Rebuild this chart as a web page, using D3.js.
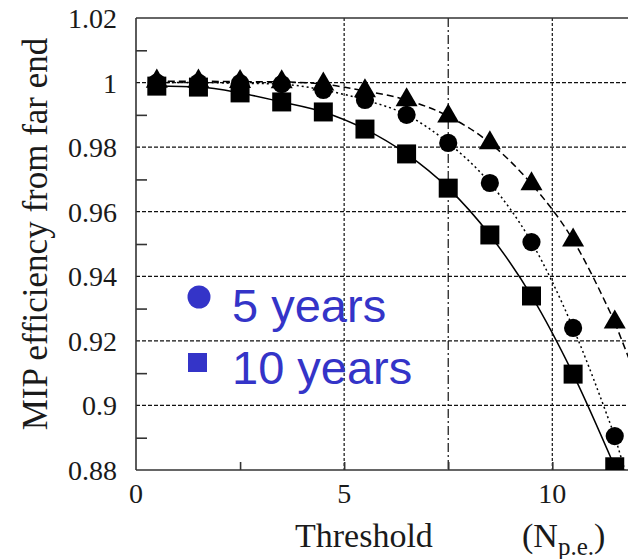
<!DOCTYPE html>
<html>
<head>
<meta charset="utf-8">
<script src="https://cdn.jsdelivr.net/npm/d3@7"></script>
<style>
  body { margin: 0; background: #fff; }
  svg { display: block; }
  .serif { font-family: "Liberation Serif", "Times New Roman", serif; fill: #1a1a1a; }
</style>
</head>
<body>
<svg id="chart" width="628" height="559"></svg>
<script>
// threshold values (N p.e.) where points were measured
const thresholds = [0.5, 1.5, 2.5, 3.5, 4.5, 5.5, 6.5, 7.5, 8.5, 9.5, 10.5, 11.5];
// efficiency after 10 years (squares, solid line)
const eff10 = [0.9989, 0.9986, 0.9968, 0.9940, 0.9909, 0.9856, 0.9779, 0.9673, 0.9528, 0.9339, 0.9097, 0.8810];
// efficiency after 5 years (circles, dotted line)
const eff5 = [1.0000, 1.0000, 0.9998, 0.9995, 0.9977, 0.9946, 0.9900, 0.9813, 0.9689, 0.9506, 0.9240, 0.8905];
// efficiency at start (triangles, dashed line)
const eff0 = [1.0004, 1.0004, 1.0003, 1.0002, 0.9995, 0.9974, 0.9946, 0.9896, 0.9813, 0.9686, 0.9512, 0.9258];

const yTicks = [0.88, 0.9, 0.92, 0.94, 0.96, 0.98, 1, 1.02];
const yMinor = [0.89, 0.91, 0.93, 0.95, 0.97, 0.99, 1.01];
const xTicks = [0, 5, 10];
const xMinor = [2.5, 7.5];
const legendItems = ["5 years", "10 years"];

const svg = d3.select("#chart");
const plotLeft = 136, plotTop = 18, plotBottom = 470, plotRight = 640;

let x = d3.scaleLinear().domain([0, 10]).range([plotLeft, 552.3]);
let y = d3.scaleLinear().domain([0.88, 1.02]).range([plotBottom, plotTop]);

svg.append("defs").append("clipPath").attr("id", "plot")
    .append("rect").attr("x", plotLeft).attr("y", plotTop)
    .attr("width", plotRight - plotLeft).attr("height", plotBottom - plotTop);

// grid lines
const grid = svg.append("g").attr("stroke", "#111").attr("stroke-width", 1.2);
yTicks.filter(d => d > 0.88 && d < 1.02).forEach(d => {
    grid.append("line").attr("x1", plotLeft).attr("x2", plotRight)
        .attr("y1", y(d)).attr("y2", y(d)).attr("stroke-dasharray", "4,2");
});
[5, 10].forEach(d => {
    grid.append("line").attr("x1", x(d)).attr("x2", x(d))
        .attr("y1", plotTop).attr("y2", plotBottom).attr("stroke-dasharray", "3,2");
});
grid.append("line").attr("x1", x(7.5)).attr("x2", x(7.5))
    .attr("y1", plotTop).attr("y2", plotBottom).attr("stroke-dasharray", "9,3,2,3");

// axes frame
const axisColor = "#333";
svg.append("line").attr("x1", plotLeft).attr("x2", plotLeft).attr("y1", plotTop).attr("y2", plotBottom)
    .attr("stroke", axisColor).attr("stroke-width", 1.6);
svg.append("line").attr("x1", plotLeft).attr("x2", plotRight).attr("y1", plotBottom).attr("y2", plotBottom)
    .attr("stroke", axisColor).attr("stroke-width", 1.6);
svg.append("line").attr("x1", plotLeft).attr("x2", plotRight).attr("y1", plotTop).attr("y2", plotTop)
    .attr("stroke", axisColor).attr("stroke-width", 1.6);

// y axis (inward ticks)
const yAxis = d3.axisRight(y).tickValues(yMinor).tickSize(11).tickFormat("");
svg.append("g").attr("transform", `translate(${plotLeft},0)`).call(yAxis)
    .call(g => g.select(".domain").remove())
    .selectAll("line").attr("stroke", axisColor).attr("stroke-width", 1.6);

svg.append("g").selectAll("text").data(yTicks).join("text")
    .attr("class", "serif")
    .attr("x", 117).attr("y", d => y(d) + 10)
    .attr("text-anchor", "end")
    .style("font-size", "28px")
    .text(d => d3.format("")(d));

// x axis (inward ticks)
const xAxis = d3.axisTop(x).tickValues(xMinor.concat([5, 10])).tickSize(8).tickFormat("");
svg.append("g").attr("transform", `translate(0,${plotBottom})`).call(xAxis)
    .call(g => g.select(".domain").remove())
    .selectAll("line").attr("stroke", axisColor).attr("stroke-width", 1.6);

svg.append("g").selectAll("text").data(xTicks).join("text")
    .attr("class", "serif")
    .attr("x", d => x(d)).attr("y", 503)
    .attr("text-anchor", "middle")
    .style("font-size", "28px")
    .text(d => d);

// axis titles
svg.append("text").attr("class", "serif").attr("x", 295).attr("y", 547)
    .style("font-size", "34px")
    .text("Threshold");
const unit = svg.append("text").attr("class", "serif").attr("x", 522).attr("y", 547)
    .style("font-size", "34px");
unit.append("tspan").text("(N");
unit.append("tspan").style("font-size", "25px").attr("dy", 8).text("p.e.");
unit.append("tspan").attr("dy", -8).text(")");

svg.append("text").attr("class", "serif")
    .attr("transform", "translate(47,234) rotate(-90)")
    .attr("text-anchor", "middle")
    .style("font-size", "35px")
    .text("MIP efficiency from far end");

// series
const plot = svg.append("g").attr("clip-path", "url(#plot)");
const series = [
    { values: eff0, dash: "7,4", symbol: d3.symbolTriangle, size: 210 },
    { values: eff5, dash: "2,3", symbol: d3.symbolCircle, size: 260 },
    { values: eff10, dash: null, symbol: d3.symbolSquare, size: 361 }
];

const line = d3.line().curve(d3.curveMonotoneX)
    .x(d => x(d[0])).y(d => y(d[1]));

series.forEach(s => {
    const pts = thresholds.map((t, i) => [t, s.values[i]]);
    const n = pts.length;
    // the fitted curve keeps going past the last point, out of the frame
    const slope = (pts[n - 1][1] - pts[n - 2][1]) / (pts[n - 1][0] - pts[n - 2][0]);
    const tail = [pts[n - 1], [12.5, pts[n - 1][1] + slope * 1.3]];
    plot.append("path").datum(pts)
        .attr("d", line)
        .attr("fill", "none").attr("stroke", "#000").attr("stroke-width", 1.5)
        .attr("stroke-dasharray", s.dash);
    plot.append("path").datum(tail)
        .attr("d", d3.line().x(d => x(d[0])).y(d => y(d[1])))
        .attr("fill", "none").attr("stroke", "#000").attr("stroke-width", 1.5)
        .attr("stroke-dasharray", s.dash);
    plot.selectAll(null).data(pts).join("path")
        .attr("transform", d => `translate(${x(d[0])},${y(d[1])})`)
        .attr("d", d3.symbol().type(s.symbol).size(s.size))
        .attr("fill", "#000");
});

// legend
const blue = "#3434c8";
const legend = svg.append("g");
legend.append("circle").attr("cx", 199).attr("cy", 297).attr("r", 11.5).attr("fill", blue);
legend.append("rect").attr("x", 188).attr("y", 353).attr("width", 19).attr("height", 19).attr("fill", blue);
legend.selectAll("text").data(legendItems).join("text")
    .attr("x", 232).attr("y", (d, i) => 322 + i * 62)
    .style("font-family", "'Liberation Sans', Arial, sans-serif")
    .style("font-size", "47px").attr("fill", blue)
    .text(d => d);
</script>
</body>
</html>
